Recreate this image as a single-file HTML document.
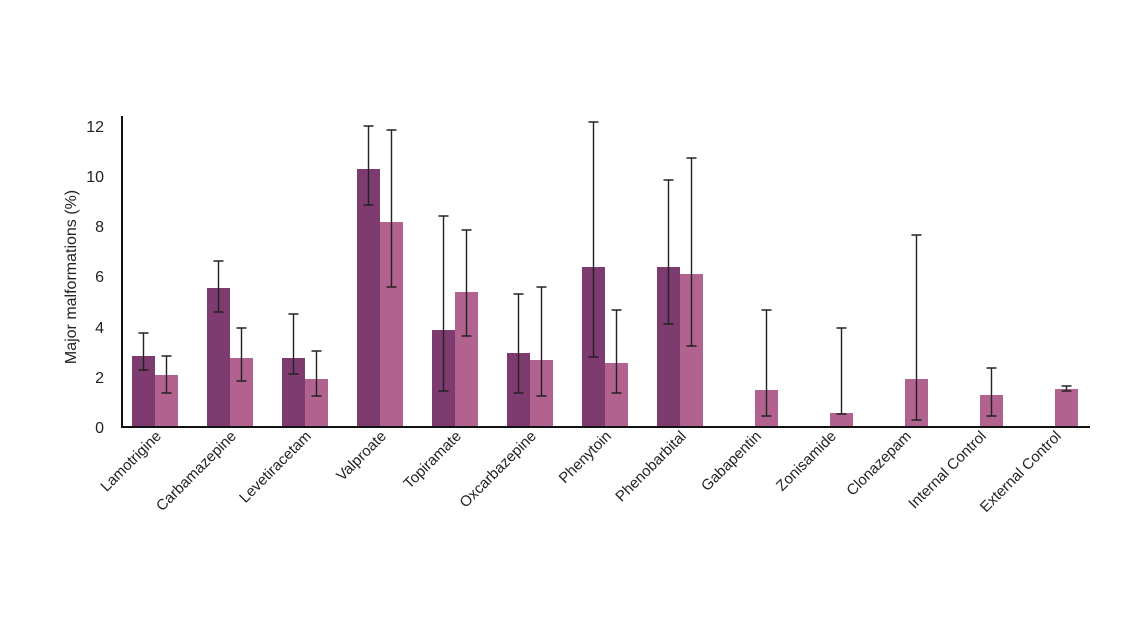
<!DOCTYPE html>
<html><head><meta charset="utf-8"><style>
html,body{margin:0;padding:0;background:#fff}
svg{display:block}
text{font-family:"Liberation Sans",sans-serif;fill:#222}
</style></head><body>
<svg width="1138" height="640" viewBox="0 0 1138 640" xmlns="http://www.w3.org/2000/svg">
<g font-size="16" text-anchor="end">
<text x="104" y="433">0</text>
<text x="104" y="383">2</text>
<text x="104" y="333">4</text>
<text x="104" y="282">6</text>
<text x="104" y="232">8</text>
<text x="104" y="182">10</text>
<text x="104" y="132">12</text>
</g>
<text transform="translate(76,277) rotate(-90)" font-size="16" text-anchor="middle">Major malformations (%)</text>
<g fill="#7d3b70">
<rect x="132" y="356" width="23" height="71"/>
<rect x="207" y="288" width="23" height="139"/>
<rect x="282" y="358" width="23" height="69"/>
<rect x="357" y="169" width="23" height="258"/>
<rect x="432" y="330" width="23" height="97"/>
<rect x="507" y="353" width="23" height="74"/>
<rect x="582" y="267" width="23" height="160"/>
<rect x="657" y="267" width="23" height="160"/>
</g>
<g fill="#b2628f">
<rect x="155" y="375" width="23" height="52"/>
<rect x="230" y="358" width="23" height="69"/>
<rect x="305" y="379" width="23" height="48"/>
<rect x="380" y="222" width="23" height="205"/>
<rect x="455" y="292" width="23" height="135"/>
<rect x="530" y="360" width="23" height="67"/>
<rect x="605" y="363" width="23" height="64"/>
<rect x="680" y="274" width="23" height="153"/>
<rect x="755" y="390" width="23" height="37"/>
<rect x="830" y="413" width="23" height="14"/>
<rect x="905" y="379" width="23" height="48"/>
<rect x="980" y="395" width="23" height="32"/>
<rect x="1055" y="389" width="23" height="38"/>
</g>
<g stroke="#222" stroke-width="1.4" fill="none">
<path d="M143.5 333V370M138.5 333h10M138.5 370h10"/>
<path d="M166.5 356V393M161.5 356h10M161.5 393h10"/>
<path d="M218.5 261V312M213.5 261h10M213.5 312h10"/>
<path d="M241.5 328V381M236.5 328h10M236.5 381h10"/>
<path d="M293.5 314V374M288.5 314h10M288.5 374h10"/>
<path d="M316.5 351V396M311.5 351h10M311.5 396h10"/>
<path d="M368.5 126V205M363.5 126h10M363.5 205h10"/>
<path d="M391.5 130V287M386.5 130h10M386.5 287h10"/>
<path d="M443.5 216V391M438.5 216h10M438.5 391h10"/>
<path d="M466.5 230V336M461.5 230h10M461.5 336h10"/>
<path d="M518.5 294V393M513.5 294h10M513.5 393h10"/>
<path d="M541.5 287V396M536.5 287h10M536.5 396h10"/>
<path d="M593.5 122V357M588.5 122h10M588.5 357h10"/>
<path d="M616.5 310V393M611.5 310h10M611.5 393h10"/>
<path d="M668.5 180V324M663.5 180h10M663.5 324h10"/>
<path d="M691.5 158V346M686.5 158h10M686.5 346h10"/>
<path d="M766.5 310V416M761.5 310h10M761.5 416h10"/>
<path d="M841.5 328V414M836.5 328h10M836.5 414h10"/>
<path d="M916.5 235V420M911.5 235h10M911.5 420h10"/>
<path d="M991.5 368V416M986.5 368h10M986.5 416h10"/>
<path d="M1066.5 386V391M1061.5 386h10M1061.5 391h10"/>
</g>
<line x1="122" y1="116" x2="122" y2="428" stroke="#111" stroke-width="2"/>
<line x1="121" y1="427" x2="1090" y2="427" stroke="#111" stroke-width="2"/>
<g font-size="15" text-anchor="end">
<text transform="translate(162,437) rotate(-45)">Lamotrigine</text>
<text transform="translate(237,437) rotate(-45)">Carbamazepine</text>
<text transform="translate(312,437) rotate(-45)">Levetiracetam</text>
<text transform="translate(387,437) rotate(-45)">Valproate</text>
<text transform="translate(462,437) rotate(-45)">Topiramate</text>
<text transform="translate(537,437) rotate(-45)">Oxcarbazepine</text>
<text transform="translate(612,437) rotate(-45)">Phenytoin</text>
<text transform="translate(687,437) rotate(-45)">Phenobarbital</text>
<text transform="translate(762,437) rotate(-45)">Gabapentin</text>
<text transform="translate(837,437) rotate(-45)">Zonisamide</text>
<text transform="translate(912,437) rotate(-45)">Clonazepam</text>
<text transform="translate(987,437) rotate(-45)">Internal Control</text>
<text transform="translate(1062,437) rotate(-45)">External Control</text>
</g>
</svg>
</body></html>
